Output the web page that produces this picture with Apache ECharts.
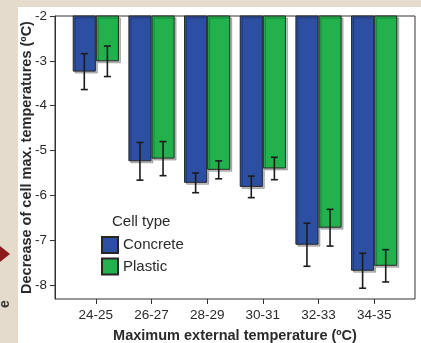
<!DOCTYPE html>
<html>
<head>
<meta charset="utf-8">
<script src="https://cdn.jsdelivr.net/npm/echarts@6/dist/echarts.min.js"></script>
<style>
html,body{margin:0;padding:0;width:421px;height:343px;overflow:hidden;background:#E4DBCC;}
#panel{position:absolute;left:18px;top:7px;width:403px;height:336px;background:#fff;}
#chart{position:absolute;left:0;top:0;width:421px;height:343px;}
</style>
</head>
<body>
<div id="panel"></div>
<div id="chart"></div>
<script>
const categories = ['24-25', '26-27', '28-29', '30-31', '32-33', '34-35'];
const concrete = [-3.24, -5.24, -5.72, -5.81, -7.10, -7.68];
const plastic = [-3.01, -5.18, -5.43, -5.40, -6.72, -7.57];
const concreteErr = [0.40, 0.42, 0.22, 0.24, 0.48, 0.39];
const plasticErr = [0.34, 0.38, 0.20, 0.25, 0.41, 0.36];
const yTicks = [-8, -7, -6, -5, -4, -3, -2];
const yMin = -8.31, yMax = -2;

const font = 'Liberation Sans, Arial, sans-serif';
const txt = '#2a2a2a';
const catGap = 0.17;

function errData(vals, errs) {
  return vals.map((v, i) => [i, v - errs[i], v + errs[i]]);
}
function errSeries(name, vals, errs, side) {
  return {
    type: 'custom', name: name + ' err', xAxisIndex: 1, yAxisIndex: 1, z: 5,
    data: errData(vals, errs), encode: { x: 0, y: [1, 2] },
    renderItem: function (params, api) {
      const band = api.size([1, 0])[0];
      const off = side * band * (1 - catGap) / 4;
      const lo = api.coord([api.value(0), api.value(1)]);
      const hi = api.coord([api.value(0), api.value(2)]);
      const x = lo[0] + off, cap = 3.5;
      const st = { stroke: '#1c1c1c', lineWidth: 1.6 };
      return { type: 'group', children: [
        { type: 'line', shape: { x1: x, y1: lo[1], x2: x, y2: hi[1] }, style: st },
        { type: 'line', shape: { x1: x - cap, y1: lo[1], x2: x + cap, y2: lo[1] }, style: st },
        { type: 'line', shape: { x1: x - cap, y1: hi[1], x2: x + cap, y2: hi[1] }, style: st }
      ]};
    }
  };
}
const barStyle = (c) => ({ color: c, borderColor: '#262626', borderWidth: 1,
  shadowColor: 'rgba(0,0,0,0.25)', shadowOffsetX: 2, shadowOffsetY: 2, shadowBlur: 0 });

const chart = echarts.init(document.getElementById('chart'));
chart.setOption({
  animation: false,
  textStyle: { fontFamily: font },
  title: { text: 'Cell type', left: 112, top: 214, padding: 0,
    textStyle: { fontSize: 15, fontWeight: 'normal', color: txt, fontFamily: font } },
  legend: { orient: 'vertical', left: 101, top: 236, padding: 0, itemWidth: 16, itemHeight: 16, itemGap: 3.5,
    data: ['Concrete', 'Plastic'], icon: 'rect',
    textStyle: { fontSize: 15, color: txt, fontFamily: font } },
  grid: [
    { left: 55, right: 6, top: 16, bottom: 44, outerBoundsMode: 'none', containLabel: false,
      show: true, borderColor: '#333', borderWidth: 1, backgroundColor: 'transparent' },
    { left: 68, right: 19, top: 16, bottom: 44, outerBoundsMode: 'none', containLabel: false }
  ],
  xAxis: [
    { type: 'category', gridIndex: 0, data: categories, show: false },
    { type: 'category', gridIndex: 1, data: categories,
      axisLine: { show: false },
      axisTick: { show: true, alignWithLabel: true, length: 5, lineStyle: { color: '#333' } },
      axisLabel: { fontSize: 13.5, color: txt, margin: 9, fontFamily: font },
      name: 'Maximum external temperature (ºC)', nameLocation: 'middle', nameGap: 29, nameMoveOverlap: false,
      nameTextStyle: { fontSize: 14.5, fontWeight: 'bold', color: txt, fontFamily: font } }
  ],
  yAxis: [
    { type: 'value', gridIndex: 0, min: yMin, max: yMax,
      axisLine: { show: true, lineStyle: { color: '#333' } },
      axisTick: { show: true, length: 5, customValues: yTicks, lineStyle: { color: '#333' } },
      axisLabel: { fontSize: 13.5, color: txt, margin: 8, customValues: yTicks, fontFamily: font },
      splitLine: { show: false },
      name: 'Decrease of cell max. temperatures (ºC)', nameLocation: 'middle', nameGap: 21, nameMoveOverlap: false,
      nameTextStyle: { fontSize: 14.5, fontWeight: 'bold', color: txt, fontFamily: font } },
    { type: 'value', gridIndex: 1, min: yMin, max: yMax, show: false, splitLine: { show: false } }
  ],
  series: [
    { type: 'bar', name: 'Concrete', xAxisIndex: 1, yAxisIndex: 1, data: concrete,
      barGap: '0%', barCategoryGap: (catGap * 100) + '%', itemStyle: barStyle('#2C4FA2'), z: 2 },
    { type: 'bar', name: 'Plastic', xAxisIndex: 1, yAxisIndex: 1, data: plastic,
      barGap: '0%', barCategoryGap: (catGap * 100) + '%', itemStyle: barStyle('#22B14C'), z: 2 },
    errSeries('Concrete', concrete, concreteErr, -1),
    errSeries('Plastic', plastic, plasticErr, 1)
  ],
  graphic: [
    { type: 'polygon', shape: { points: [[0, 246], [10, 254], [0, 262]] }, style: { fill: '#8E1B1B' } },
    { type: 'text', x: 5, y: 304, rotation: Math.PI / 2,
      style: { text: 'e', font: 'bold 14px Liberation Sans, Arial, sans-serif', fill: '#333', align: 'center', verticalAlign: 'middle' } }
  ]
});
</script>
</body>
</html>
